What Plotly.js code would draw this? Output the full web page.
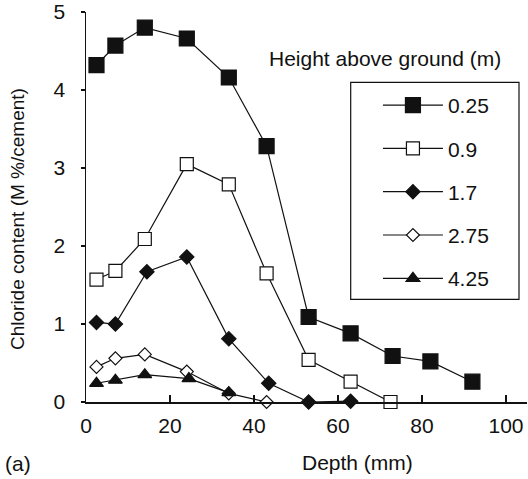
<!DOCTYPE html>
<html>
<head>
<meta charset="utf-8">
<script src="https://cdn.plot.ly/plotly-3.0.1.min.js"></script>
<style>
html,body{margin:0;padding:0;background:#fff;}
#chart{width:528px;height:479px;}
</style>
</head>
<body>
<div id="chart"></div>
<script>
// Heights above ground (m) – legend labels
const seriesNames = ['0.25', '0.9', '1.7', '2.75', '4.25'];

// Depth (mm) and chloride content (M %/cement) per height
const depth_025 = [2.5, 7, 14, 24, 34, 43, 53, 63, 73, 82, 92];
const cl_025    = [4.32, 4.57, 4.80, 4.66, 4.16, 3.28, 1.09, 0.88, 0.59, 0.52, 0.26];

const depth_09 = [2.5, 7, 14, 24, 34, 43, 53, 63, 72.5];
const cl_09    = [1.57, 1.68, 2.09, 3.05, 2.79, 1.65, 0.54, 0.26, 0.0];

const depth_17 = [2.5, 7, 14.5, 24, 34, 43.5, 53, 63];
const cl_17    = [1.02, 1.0, 1.67, 1.86, 0.81, 0.24, 0.0, 0.01];

const depth_275 = [2.5, 7, 14, 24, 34, 43];
const cl_275    = [0.45, 0.56, 0.61, 0.39, 0.11, 0.0];

const depth_425 = [2.5, 7, 14, 24.5, 34];
const cl_425    = [0.24, 0.28, 0.35, 0.30, 0.12];

const xTicks = [0, 20, 40, 60, 80, 100];
const yTicks = [0, 1, 2, 3, 4, 5];

const INK = '#111';
const FONT = 'Liberation Sans, Arial, sans-serif';
const FS = 21;

function mk(name, x, y, symbol, size, fill, group) {
  return {
    type: 'scatter', mode: 'lines+markers', name: name, x: x, y: y,
    legendgroup: group,
    line: {color: INK, width: 1.2},
    marker: {symbol: symbol, size: size, color: fill, line: {color: INK, width: 1.2}},
    cliponaxis: false
  };
}

const traces = [
  mk(seriesNames[0], depth_025, cl_025, 'square', 15, INK, 'a'),
  mk(seriesNames[1], depth_09, cl_09, 'square', 13, '#fff', 'b'),
  mk(seriesNames[2], depth_17, cl_17, 'diamond', 11, INK, 'c'),
  mk(seriesNames[3], depth_275, cl_275, 'diamond', 10, '#fff', 'd'),
  mk(seriesNames[4], depth_425, cl_425, 'triangle-up', 12, INK, 'e')
];

const layout = {
  width: 528, height: 479,
  margin: {l: 86, r: 1, t: 12, b: 77},
  paper_bgcolor: '#fff', plot_bgcolor: '#fff',
  font: {family: FONT, size: FS, color: INK},
  showlegend: true,
  legend: {
    x: 0.662, xanchor: 'left', y: 0.813, yanchor: 'top',
    bgcolor: 'rgba(0,0,0,0)', borderwidth: 0,
    traceorder: 'grouped', tracegroupgap: 13,
    itemwidth: 60,
    font: {family: FONT, size: FS, color: INK}
  },
  xaxis: {
    range: [0, 105], tickvals: xTicks, ticktext: xTicks.map(String),
    ticks: 'inside', ticklen: 7, tickwidth: 1.2, tickcolor: INK,
    showline: true, linecolor: INK, linewidth: 1.5,
    showgrid: false, zeroline: false,
    ticklabelstandoff: 4,
    tickfont: {family: FONT, size: FS, color: INK}
  },
  yaxis: {
    range: [0, 5], tickvals: yTicks, ticktext: yTicks.map(String),
    ticks: 'outside', ticklen: 4, tickwidth: 1.2, tickcolor: INK,
    showline: true, linecolor: INK, linewidth: 1.5,
    showgrid: false, zeroline: false,
    ticklabelstandoff: 11,
    tickfont: {family: FONT, size: FS, color: INK}
  },
  shapes: [{
    type: 'rect', xref: 'paper', yref: 'paper',
    x0: (350.7 - 86) / 441, x1: (519 - 86) / 441,
    y0: (402 - 299.3) / 390, y1: (402 - 82.3) / 390,
    line: {color: INK, width: 1.2}, fillcolor: 'rgba(0,0,0,0)'
  }],
  annotations: [
    {text: 'Height above ground (m)', xref: 'paper', yref: 'paper',
     x: (266.7 - 86) / 441, y: (402 - 58) / 390, xanchor: 'left', yanchor: 'middle',
     showarrow: false, font: {family: FONT, size: FS, color: INK}},
    {text: 'Depth (mm)', xref: 'paper', yref: 'paper',
     x: (357.5 - 86) / 441, y: (402 - 463) / 390, xanchor: 'center', yanchor: 'middle',
     showarrow: false, font: {family: FONT, size: FS, color: INK}},
    {text: '(a)', xref: 'paper', yref: 'paper',
     x: (3 - 86) / 441, y: (402 - 464) / 390, xanchor: 'left', yanchor: 'middle',
     showarrow: false, font: {family: FONT, size: FS, color: INK}},
    {text: 'Chloride content (M %/cement)', xref: 'paper', yref: 'paper',
     x: (17 - 86) / 441, y: (402 - 219) / 390, xanchor: 'center', yanchor: 'middle',
     textangle: -90, showarrow: false, font: {family: FONT, size: 19, color: INK}}
  ]
};

Plotly.newPlot('chart', traces, layout, {displayModeBar: false, staticPlot: true});
</script>
</body>
</html>
